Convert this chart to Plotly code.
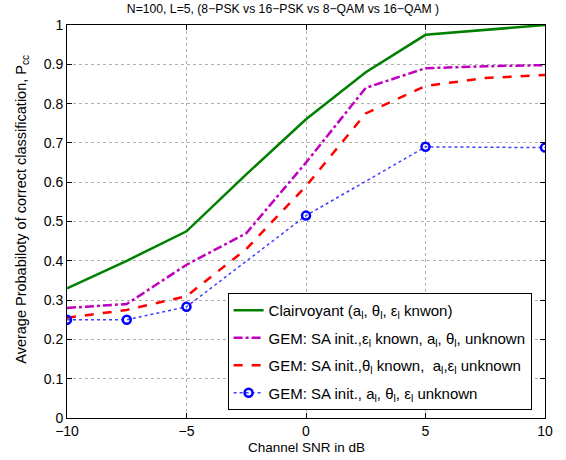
import plotly.graph_objects as go

snr = [-10, -7.5, -5, -2.5, 0, 2.5, 5, 7.5, 10]
snr_blue = [-10, -7.5, -5, 0, 5, 10]

clairvoyant = [0.33, 0.40, 0.475, 0.62, 0.76, 0.88, 0.975, 0.988, 1.0]
gem_eps_known = [0.28, 0.29, 0.39, 0.47, 0.65, 0.84, 0.89, 0.895, 0.898]
gem_theta_known = [0.255, 0.275, 0.31, 0.43, 0.59, 0.775, 0.845, 0.865, 0.873]
gem_all_unknown = [0.25, 0.25, 0.283, 0.515, 0.69, 0.688]

FONT = "Liberation Sans, Arial, sans-serif"

fig = go.Figure()
fig.add_trace(go.Scatter(x=snr, y=clairvoyant, mode='lines', legendgroup='a',
                         name='Clairvoyant (a<sub>l</sub>, θ<sub>l</sub>, ε<sub>l</sub> knwon)',
                         line=dict(color='#008000', width=2.5)))
fig.add_trace(go.Scatter(x=snr, y=gem_eps_known, mode='lines', legendgroup='b',
                         name='GEM: SA init.,ε<sub>l</sub> known, a<sub>l</sub>, θ<sub>l</sub>, unknown',
                         line=dict(color='#c000c0', width=2.5, dash='dashdot')))
fig.add_trace(go.Scatter(x=snr, y=gem_theta_known, mode='lines', legendgroup='c',
                         name='GEM: SA init.,θ<sub>l</sub> known,  a<sub>l</sub>,ε<sub>l</sub> unknown',
                         line=dict(color='#ff0000', width=2.5, dash='dash')))
fig.add_trace(go.Scatter(x=snr_blue, y=gem_all_unknown, mode='lines+markers', legendgroup='d',
                         name='GEM: SA init., a<sub>l</sub>, θ<sub>l</sub>, ε<sub>l</sub> unknown',
                         line=dict(color='#4040ff', width=1.5, dash='dot'),
                         marker=dict(symbol='circle-open', size=8, color='#0000ff', line=dict(width=2.5))))

axis_common = dict(showline=True, linecolor='black', linewidth=1, mirror='ticks',
                   ticks='inside', ticklen=5, tickcolor='black', automargin=False,
                   showgrid=True, gridcolor='#b0b0b0', griddash='dot', gridwidth=1,
                   zeroline=False, tickfont=dict(size=14, color='black', family=FONT))

fig.update_layout(
    width=566, height=460, template='plotly_white',
    paper_bgcolor='white', plot_bgcolor='white',
    margin=dict(l=67, r=21, t=25, b=42),
    font=dict(family=FONT, size=13, color='black'),
    title=dict(text='N=100, L=5, (8−PSK vs 16−PSK vs 8−QAM vs 16−QAM )',
               x=0.5, xref='container', y=0.980, yref='container', yanchor='middle',
               font=dict(size=12.2, family=FONT, color='black')),
    xaxis=dict(range=[-10, 10], tickvals=[-10, -5, 0, 5, 10], **axis_common),
    yaxis=dict(range=[0, 1], dtick=0.1, tickformat='.1~f', **axis_common),
    legend=dict(x=0.336, y=0.318, xanchor='left', yanchor='top', bgcolor='white',
                bordercolor='black', borderwidth=1, font=dict(size=15, family=FONT),
                traceorder='grouped', tracegroupgap=5, itemwidth=30),
)
fig.add_annotation(text='Channel SNR in dB', xref='paper', yref='paper', x=0.5, y=-0.074,
                   xanchor='center', yanchor='middle', showarrow=False, font=dict(size=13.5))
fig.add_annotation(text='Average Probabiloty of correct classification, P<sub>cc</sub>',
                   xref='paper', yref='paper', x=-0.094, y=0.53, textangle=-90,
                   xanchor='center', yanchor='middle', showarrow=False, font=dict(size=14.5))
fig.write_html("out.html", config={'displayModeBar': False},
               post_script="document.body.style.margin='0';")
